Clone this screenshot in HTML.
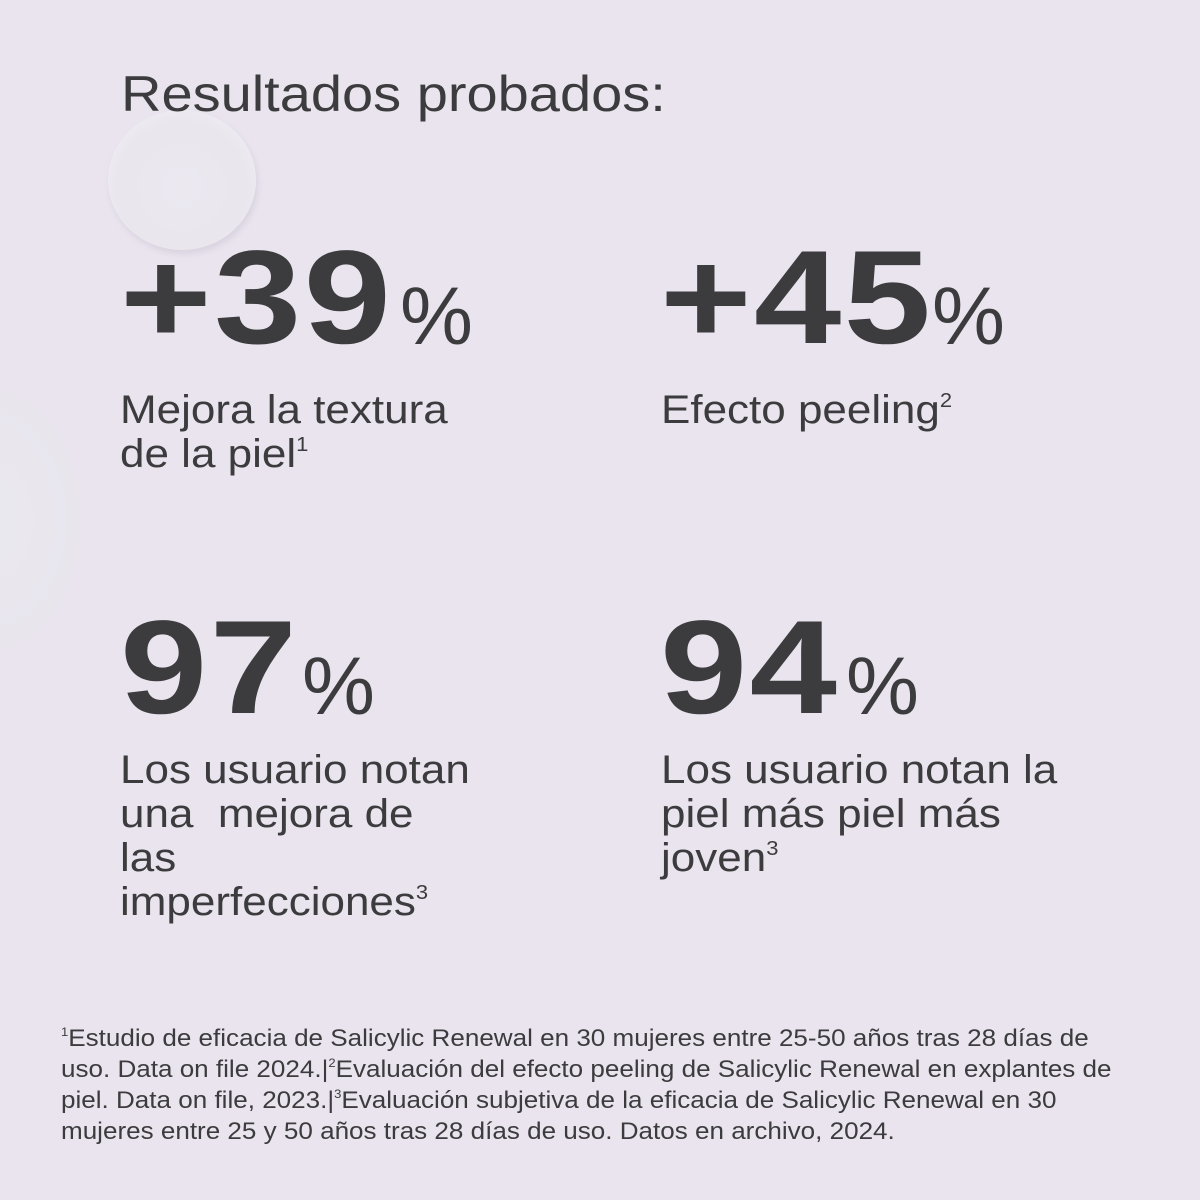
<!DOCTYPE html>
<html><head><meta charset="utf-8"><style>
html,body{margin:0;padding:0}
body{width:1200px;height:1200px;position:relative;overflow:hidden;background:#e9e4ee;font-family:"Liberation Sans",sans-serif;color:#3c3b3d}
.a{position:absolute;white-space:nowrap;transform-origin:left top}
.big{font-weight:bold;font-size:133px;line-height:133px;transform:scaleX(1.18);letter-spacing:2px}
.pc{font-size:82px;line-height:82px}
.lab{font-size:40px;line-height:44px;transform:scaleX(1.1)}
sup{font-size:0.5em;vertical-align:0;position:relative;top:-0.8em}
.fn{font-size:24px;line-height:28px;transform:scaleX(1.085)}
.drop{position:absolute;border-radius:50%}
</style></head><body>
<div class="drop" style="left:108px;top:110px;width:148px;height:140px;background:radial-gradient(circle at 50% 55%,#ebe8f0 0%,#e9e6ee 60%,#f0eef4 85%,#dcd8e2 100%);box-shadow:2px 4px 6px rgba(150,140,165,0.18)"></div>
<div class="drop" style="left:-90px;top:390px;width:170px;height:260px;background:radial-gradient(ellipse at 40% 50%,#ebe9f0 0%,#e8e5ed 70%,#e6e1ea 100%)"></div>
<div class="a" style="left:121px;top:70px;font-size:50px;line-height:48px;transform:scaleX(1.12)">Resultados probados:</div>

<div class="a big" style="left:120px;top:232px">+39</div>
<div class="a pc" style="left:400px;top:276px">%</div>
<div class="a lab" style="left:120px;top:388px">Mejora la textura<br>de la piel<sup>1</sup></div>

<div class="a big" style="left:660px;top:232px">+45</div>
<div class="a pc" style="left:932px;top:276px">%</div>
<div class="a lab" style="left:661px;top:388px">Efecto peeling<sup>2</sup></div>

<div class="a big" style="left:120px;top:602px">97</div>
<div class="a pc" style="left:302px;top:646px">%</div>
<div class="a lab" style="left:120px;top:748px">Los usuario notan<br>una&nbsp; mejora de<br>las<br>imperfecciones<sup>3</sup></div>

<div class="a big" style="left:660px;top:602px">94</div>
<div class="a pc" style="left:846px;top:646px">%</div>
<div class="a lab" style="left:661px;top:748px">Los usuario notan la<br>piel más piel más<br>joven<sup>3</sup></div>

<div class="a fn" style="left:61px;top:1025px"><sup>1</sup>Estudio de eficacia de Salicylic Renewal en 30 mujeres entre 25-50 años tras 28 días de<br>uso. Data on file 2024.|<sup>2</sup>Evaluación del efecto peeling de Salicylic Renewal en explantes de<br>piel. Data on file, 2023.|<sup>3</sup>Evaluación subjetiva de la eficacia de Salicylic Renewal en 30<br>mujeres entre 25 y 50 años tras 28 días de uso. Datos en archivo, 2024.</div>
</body></html>
